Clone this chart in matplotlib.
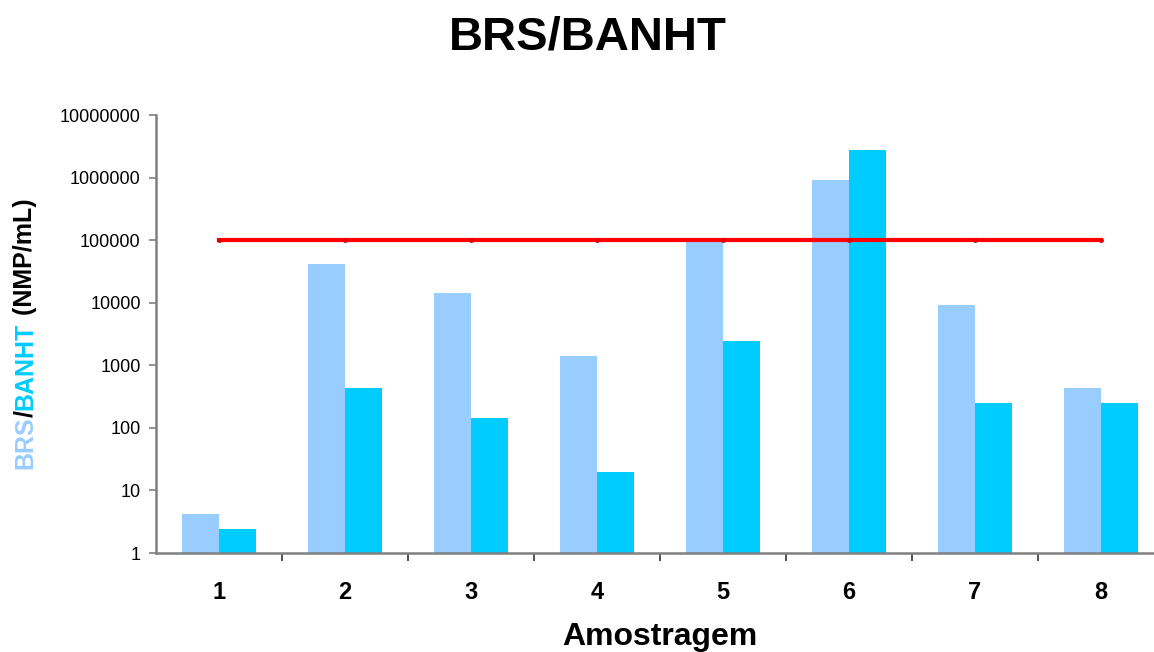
import numpy as np
import matplotlib
matplotlib.use('Agg')
import matplotlib.pyplot as plt
from matplotlib.ticker import FixedLocator, FuncFormatter, NullLocator

plt.rcParams['font.family'] = ['Liberation Sans', 'DejaVu Sans']

# data (NMP/mL, log scale)
amostras = ['1', '2', '3', '4', '5', '6', '7', '8']
brs = [4.2, 42000, 14500, 1400, 100000, 920000, 9200, 430]
banht = [2.4, 430, 143, 20, 2450, 2800000, 250, 250]
limite = [100000] * 8

c_brs = '#99CCFF'
c_banht = '#00CCFF'

fig = plt.figure(figsize=(11.54, 6.52), dpi=100)
ax = fig.add_axes([156/1154, 99/652, 1008/1154, 438/652])

x = np.arange(len(amostras))
w = 0.294
ax.bar(x, brs, width=-w, align='edge', color=c_brs, zorder=2)
ax.bar(x, banht, width=w, align='edge', color=c_banht, zorder=2)
ax.plot(x, limite, color='#FF0000', lw=3, marker='o', ms=2.5,
        mfc='#e00000', mec='#e00000', zorder=3)

ax.set_yscale('log')
ax.set_ylim(1, 1e7)
ax.set_xlim(-0.5, len(amostras) - 0.5)
ax.yaxis.set_major_locator(FixedLocator([10**k for k in range(8)]))
ax.yaxis.set_minor_locator(NullLocator())
ax.yaxis.set_major_formatter(FuncFormatter(lambda v, p: '%d' % round(v)))
ax.tick_params(axis='y', labelsize=13, length=5, width=1.2, color='#808080', pad=6)

ax.set_xticks(x)
ax.set_xticklabels(amostras, fontsize=17, fontweight='bold')
ax.set_xticks(np.arange(0.5, len(amostras) - 1), minor=True)
ax.tick_params(axis='x', which='major', length=0, pad=20)
ax.tick_params(axis='x', which='minor', length=6, width=1.2, color='#333333')

for s in ['top', 'right']:
  ax.spines[s].set_visible(False)
for s in ['left', 'bottom']:
  ax.spines[s].set_color('#808080')
  ax.spines[s].set_linewidth(1.8)

ax.set_xlabel('Amostragem', fontsize=23, fontweight='bold', labelpad=13)
fig.text(588/1154, 1 - 37/652, 'BRS/BANHT', fontsize=34, fontweight='bold',
         ha='center', va='center')

# multi-coloured y label, stacked bottom to top
pieces = [('BRS', c_brs), ('/', 'black'), ('BANHT', c_banht), (' (NMP/mL)', 'black')]
fig.canvas.draw()
r = fig.canvas.get_renderer()
txts = []
total = 0
for s, c in pieces:
  t = fig.text(0, 0, s, color=c, fontsize=18, fontweight='bold',
               rotation=90, ha='center', va='bottom')
  h = t.get_window_extent(renderer=r).height
  txts.append((t, h))
  total += h
ycen = 652 - 334
ypos = ycen - total / 2
for t, h in txts:
  t.set_position((25/1154, ypos/652))
  ypos += h

fig.savefig('out.png', dpi=100)
